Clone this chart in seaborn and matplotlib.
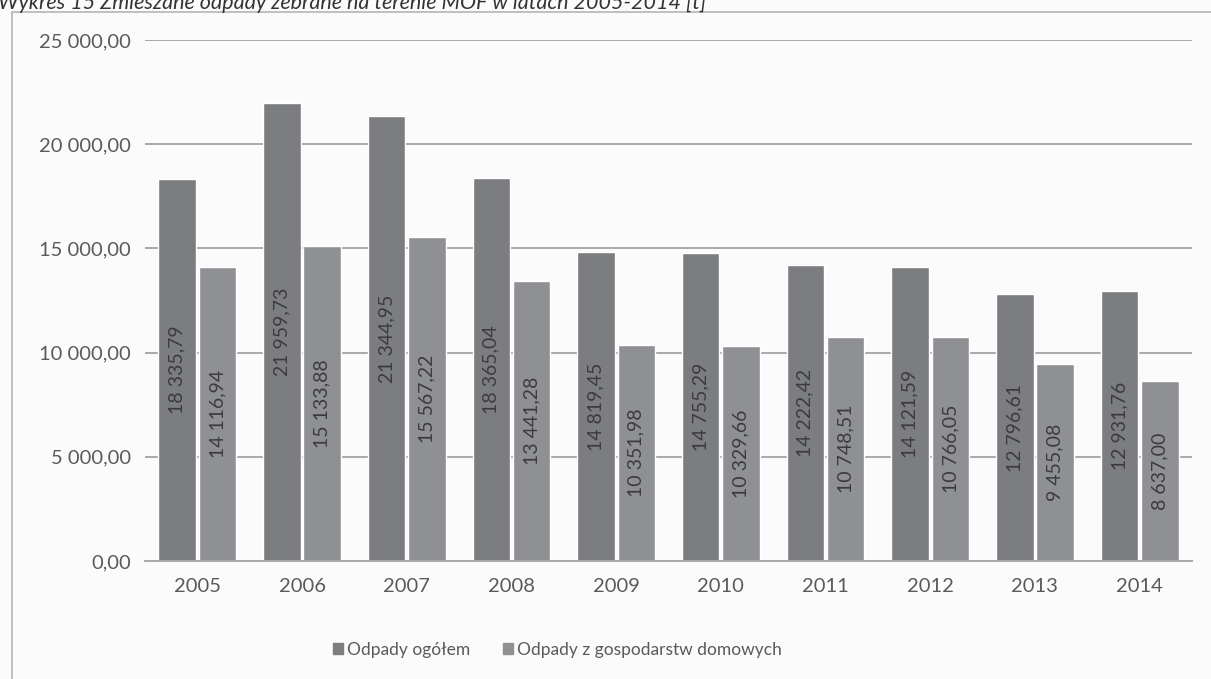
import matplotlib
matplotlib.use("Agg")
import matplotlib.pyplot as plt
import matplotlib.patches as mpatches
import seaborn as sns
import pandas as pd
from matplotlib.ticker import FuncFormatter, MultipleLocator

years = ["2005", "2006", "2007", "2008", "2009", "2010", "2011", "2012", "2013", "2014"]
odpady_ogolem = [18335.79, 21959.73, 21344.95, 18365.04, 14819.45,
                 14755.29, 14222.42, 14121.59, 12796.61, 12931.76]
odpady_domowe = [14116.94, 15133.88, 15567.22, 13441.28, 10351.98,
                 10329.66, 10748.51, 10766.05, 9455.08, 8637.00]
series_names = ["Odpady ogółem", "Odpady z gospodarstw domowych"]
title = "Wykres 15 Zmieszane odpady zebrane na terenie MOF w latach 2005-2014 [t]"


def pl_num(v):
    return f"{v:,.2f}".replace(",", " ").replace(".", ",")


df = pd.DataFrame({
    "Rok": years * 2,
    "Wartosc": odpady_ogolem + odpady_domowe,
    "Seria": [series_names[0]] * len(years) + [series_names[1]] * len(years),
})

sns.set_theme(style="white")
plt.rcParams['font.family'] = ['Lato', 'DejaVu Sans']

fig = plt.figure(figsize=(12.11, 6.79), dpi=100, facecolor="#fbfbfb")
ax = fig.add_axes([0.1197, 0.1738, 0.8646, 0.7673])
ax.set_facecolor("#fbfbfb")

colors = ["#7b7d80", "#8e9093"]
sns.barplot(data=df, x="Rok", y="Wartosc", hue="Seria", palette=colors,
            width=0.77, gap=0.07, saturation=1, ax=ax, legend=False)

for cont in ax.containers:
    ax.bar_label(cont, fmt=pl_num, label_type="center", rotation=90,
                 fontsize=14, color="#3c3c3c")

ax.set_ylim(0, 25000)
ax.set_xlim(-0.5, 9.5)
ax.yaxis.set_major_locator(MultipleLocator(5000))
ax.yaxis.set_major_formatter(FuncFormatter(lambda v, p: pl_num(v)))
ax.grid(axis="y", color="#a9a9a9", linewidth=1.4)
ax.set_axisbelow(True)
for s in ["top", "right", "left"]:
    ax.spines[s].set_visible(False)
ax.spines["bottom"].set_color("#a9a9a9")
ax.spines["bottom"].set_linewidth(1.4)
ax.tick_params(axis="y", length=0, pad=10, labelsize=14.5, labelcolor="#5a5a5a")
ax.tick_params(axis="x", length=0, pad=12, labelsize=14.5, labelcolor="#5a5a5a")
ax.set_xlabel("")
ax.set_ylabel("")

handles = [mpatches.Patch(color=c) for c in colors]
fig.legend(handles, series_names, loc="center", bbox_to_anchor=(0.46, 0.043),
           ncol=2, frameon=False, fontsize=12.5, handlelength=0.6, handleheight=0.6,
           handletextpad=0.2, columnspacing=1.9, labelcolor="#5a5a5a")

# outer chart frame
fig.patches.append(mpatches.Rectangle((12 / 1211, -0.01), 1.0, 1 - 12 / 679 + 0.01,
                                      transform=fig.transFigure, fill=False,
                                      edgecolor="#b5b5b5", linewidth=1.2))
fig.text(-0.002, 1 - 9 / 679, title, fontsize=15.5, style="italic",
         color="#333333", va="baseline", ha="left")

fig.savefig("out.png", dpi=100, facecolor=fig.get_facecolor())
